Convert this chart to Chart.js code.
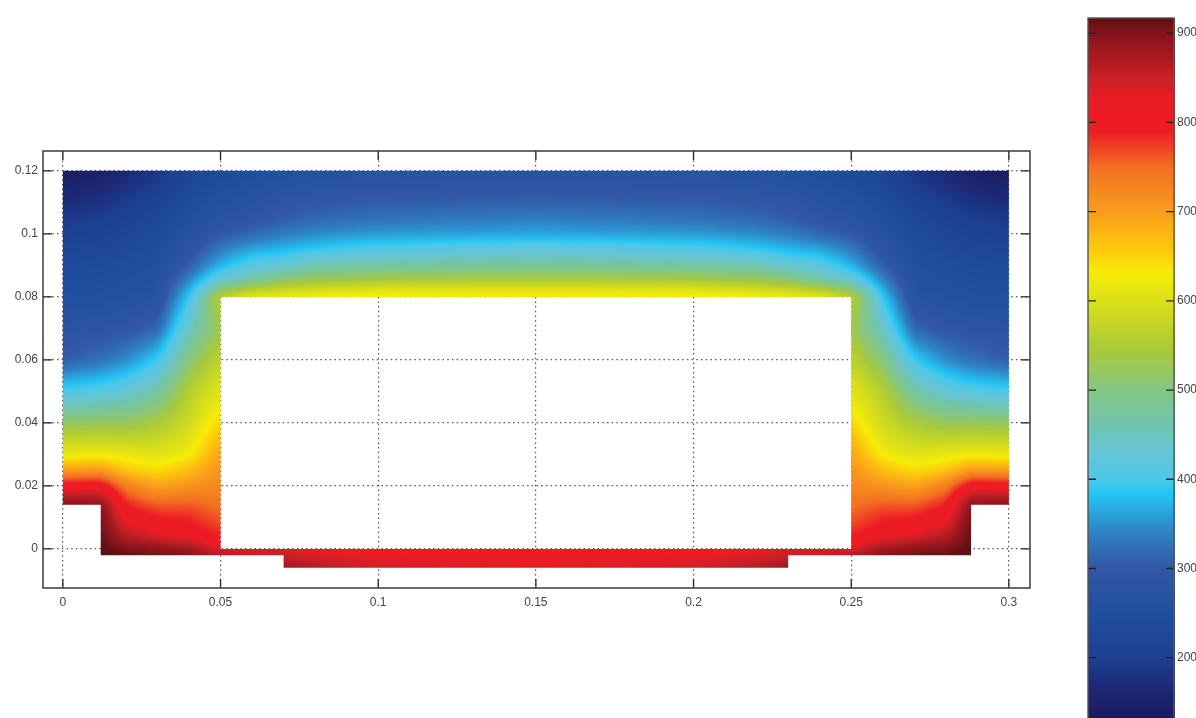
<!DOCTYPE html>
<html>
<head>
<meta charset="utf-8">
<title>Temperature field</title>
<script src="https://cdn.jsdelivr.net/npm/chart.js@4"></script>
<style>
  html, body { margin: 0; padding: 0; width: 1196px; height: 718px; overflow: hidden; background: #fff; }
  canvas { position: absolute; }
  #field { left: 0; top: 0; }
  #bar { left: 1076px; top: 0; }
</style>
</head>
<body>
<canvas id="field" width="1196" height="718"></canvas>
<canvas id="bar" width="140" height="760"></canvas>
<script>
// --- Axis ticks ---
const xTicks = [0, 0.05, 0.1, 0.15, 0.2, 0.25, 0.3];
const yTicks = [0, 0.02, 0.04, 0.06, 0.08, 0.1, 0.12];
const barTicks = [200, 300, 400, 500, 600, 700, 800, 900];

// --- Colour scale ---
const colorLevels = [110, 133, 170, 200, 250, 300, 336, 365, 383, 400, 430, 460, 500, 540, 570, 600, 630, 660, 700, 750, 790, 825, 850, 880, 900, 917];
const colorValues = ['#1a1a5c', '#1a1a5e', '#1c2a78', '#1d3f92', '#1f4fa0', '#3157a5', '#2f7dc0', '#2aa8e0', '#24c4f5', '#4cc8e8', '#65c5d8', '#70c5b0', '#84c784', '#a5c840', '#c0d428', '#dce018', '#f6ec07', '#fdc60c', '#f99d1c', '#f36f21', '#ed1c24', '#ed1c24', '#c82026', '#a0181e', '#84131a', '#5e0f12'];

// --- Nodes of the temperature grid ---
const xNodes = [0, 0.012, 0.02, 0.03, 0.04, 0.05, 0.06, 0.07, 0.08, 0.1, 0.15, 0.2, 0.22, 0.23, 0.24, 0.25, 0.26, 0.27, 0.28, 0.288, 0.3];
const yNodes = [-0.006, -0.002, 0, 0.005, 0.01, 0.014, 0.02, 0.025, 0.03, 0.035, 0.04, 0.05, 0.06, 0.07, 0.08, 0.085, 0.09, 0.095, 0.1, 0.105, 0.11, 0.12];

// --- Temperatures, one list per x node, bottom to top ---
const n = null;
const t000 = [n, n, n, n, n, 905, 810, 700, 615, 570, 520, 400, 305, 280, 250, 243, 235, 220, 205, 190, 172, 135];
const t012 = [n, 925, 920, 915, 910, 900, 815, 705, 622, 572, 525, 412, 325, 285, 255, 247, 238, 222, 212, 197, 180, 148];
const t020 = [n, 920, 900, 855, 815, 790, 735, 660, 615, 570, 525, 430, 345, 292, 262, 254, 245, 233, 222, 210, 195, 165];
const t030 = [n, 915, 895, 825, 790, 760, 695, 640, 605, 575, 545, 472, 392, 315, 270, 263, 255, 245, 236, 225, 212, 185];
const t040 = [n, 905, 880, 808, 785, 762, 710, 670, 625, 605, 585, 558, 505, 445, 390, 345, 305, 285, 265, 252, 240, 215];
const t050 = [n, 880, 835, 782, 760, 745, 725, 712, 695, 675, 650, 610, 572, 535, 575, 440, 372, 335, 300, 275, 260, 232];
const t060 = [n, 855, 840, n, n, n, n, n, n, n, n, n, n, n, 625, 480, 415, 365, 315, 290, 272, 245];
const t070 = [885, 850, 835, n, n, n, n, n, n, n, n, n, n, n, 630, 520, 430, 375, 335, 305, 290, 255];
const t080 = [870, 835, 825, n, n, n, n, n, n, n, n, n, n, n, 640, 535, 460, 390, 345, 315, 298, 262];
const t100 = [845, 825, 820, n, n, n, n, n, n, n, n, n, n, n, 648, 550, 470, 410, 355, 325, 305, 270];
const t150 = [835, 815, 810, n, n, n, n, n, n, n, n, n, n, n, 652, 555, 480, 425, 362, 335, 310, 275];
const t200 = [845, 825, 820, n, n, n, n, n, n, n, n, n, n, n, 648, 550, 470, 410, 355, 325, 305, 270];
const t220 = [870, 835, 825, n, n, n, n, n, n, n, n, n, n, n, 640, 535, 460, 390, 345, 315, 298, 262];
const t230 = [885, 850, 835, n, n, n, n, n, n, n, n, n, n, n, 630, 520, 430, 375, 335, 305, 290, 255];
const t240 = [n, 855, 840, n, n, n, n, n, n, n, n, n, n, n, 625, 480, 415, 365, 315, 290, 272, 245];
const t250 = [n, 880, 835, 782, 760, 745, 725, 712, 695, 675, 650, 610, 572, 535, 575, 440, 372, 335, 300, 275, 260, 232];
const t260 = [n, 905, 880, 808, 785, 762, 710, 670, 625, 605, 585, 558, 505, 445, 390, 345, 305, 285, 265, 252, 240, 215];
const t270 = [n, 915, 895, 825, 790, 760, 695, 640, 605, 575, 545, 472, 392, 315, 270, 263, 255, 245, 236, 225, 212, 185];
const t280 = [n, 920, 900, 855, 815, 790, 735, 660, 615, 570, 525, 430, 345, 292, 262, 254, 245, 233, 222, 210, 195, 165];
const t288 = [n, 925, 920, 915, 910, 900, 815, 705, 622, 572, 525, 412, 325, 285, 255, 247, 238, 222, 212, 197, 180, 148];
const t300 = [n, n, n, n, n, 905, 810, 700, 615, 570, 520, 400, 305, 280, 250, 243, 235, 220, 205, 190, 172, 135];
const tempColumns = [t000, t012, t020, t030, t040, t050, t060, t070, t080, t100, t150, t200, t220, t230, t240, t250, t260, t270, t280, t288, t300];

// --- Outline of the domain and of the hole in it ---
const domainX = [0, 0.012, 0.012, 0.07, 0.07, 0.23, 0.23, 0.288, 0.288, 0.3, 0.3, 0];
const domainY = [0.014, 0.014, -0.002, -0.002, -0.006, -0.006, -0.002, -0.002, 0.014, 0.014, 0.12, 0.12];
const holeX = [0.05, 0.25, 0.25, 0.05];
const holeY = [0, 0, 0.08, 0.08];

// Colour table with one entry per degree
function buildLut() {
    const probe = document.createElement('canvas').getContext('2d');
    const rgb = colorValues.map(c => {
        probe.fillStyle = c;
        const h = probe.fillStyle;
        return [parseInt(h.slice(1, 3), 16), parseInt(h.slice(3, 5), 16), parseInt(h.slice(5, 7), 16)];
    });
    const lut = [];
    for (let t = 0; t <= 1000; t++) {
        let i = 0;
        while (i < colorLevels.length - 2 && t > colorLevels[i + 1]) i++;
        const f = Math.min(1, Math.max(0, (t - colorLevels[i]) / (colorLevels[i + 1] - colorLevels[i])));
        lut.push([0, 1, 2].map(k => rgb[i][k] + (rgb[i + 1][k] - rgb[i][k]) * f));
    }
    return lut;
}
const lut = buildLut();

function findCell(nodes, v) {
    let i = 0;
    while (i < nodes.length - 2 && v > nodes[i + 1]) i++;
    return i;
}

// Box blur that skips empty pixels, only softens the shading between nodes
function softenPass(src, w, h, r, stepX) {
    const out = new Float32Array(src.length);
    const lines = stepX ? h : w, len = stepX ? w : h;
    for (let l = 0; l < lines; l++) {
        for (let p = 0; p < len; p++) {
            let sum = 0, cnt = 0;
            for (let q = Math.max(0, p - r); q <= Math.min(len - 1, p + r); q++) {
                const v = stepX ? src[l * w + q] : src[q * w + l];
                if (!isNaN(v)) { sum += v; cnt++; }
            }
            out[stepX ? l * w + p : p * w + l] = cnt ? sum / cnt : NaN;
        }
    }
    return out;
}

// Same job as "shading interp": paints the grid cells between their node values
const shadedField = {
    id: 'shadedField',
    beforeDatasetsDraw(chart) {
        const ds = chart.data.datasets[0];
        const sx = chart.scales.x, sy = chart.scales.y, ctx = chart.ctx;
        const left = Math.floor(sx.getPixelForValue(ds.xNodes[0]));
        const right = Math.ceil(sx.getPixelForValue(ds.xNodes[ds.xNodes.length - 1]));
        const top = Math.max(0, Math.floor(sy.getPixelForValue(ds.yNodes[ds.yNodes.length - 1])));
        const bottom = Math.ceil(sy.getPixelForValue(ds.yNodes[0]));
        const w = right - left + 1, h = bottom - top + 1;
        let field = new Float32Array(w * h).fill(NaN);
        for (let py = 0; py < h; py++) {
            const yv = sy.getValueForPixel(top + py + 0.5);
            const j = findCell(ds.yNodes, yv);
            const fy = Math.min(1, Math.max(0, (yv - ds.yNodes[j]) / (ds.yNodes[j + 1] - ds.yNodes[j])));
            for (let px = 0; px < w; px++) {
                const xv = sx.getValueForPixel(left + px + 0.5);
                const i = findCell(ds.xNodes, xv);
                const fx = Math.min(1, Math.max(0, (xv - ds.xNodes[i]) / (ds.xNodes[i + 1] - ds.xNodes[i])));
                const a = ds.columns[i][j], b = ds.columns[i + 1][j], c = ds.columns[i][j + 1], d = ds.columns[i + 1][j + 1];
                if (a === null || b === null || c === null || d === null) continue;
                field[py * w + px] = (a * (1 - fx) + b * fx) * (1 - fy) + (c * (1 - fx) + d * fx) * fy;
            }
        }
        for (let pass = 0; pass < (ds.soften ? 2 : 0); pass++) {
            field = softenPass(field, w, h, ds.soften, true);
            field = softenPass(field, w, h, ds.soften, false);
        }
        const off = document.createElement('canvas');
        off.width = w; off.height = h;
        const offCtx = off.getContext('2d');
        const img = offCtx.createImageData(w, h);
        for (let o = 0; o < w * h; o++) {
            if (isNaN(field[o])) continue;
            const col = lut[Math.round(field[o])];
            img.data[o * 4] = col[0]; img.data[o * 4 + 1] = col[1]; img.data[o * 4 + 2] = col[2]; img.data[o * 4 + 3] = 255;
        }
        offCtx.putImageData(img, 0, 0);
        ctx.save();
        if (ds.outlines) {
            ctx.beginPath();
            ds.outlines.forEach(([xs, ys]) => {
                xs.forEach((x, k) => {
                    const X = sx.getPixelForValue(x), Y = sy.getPixelForValue(ys[k]);
                    if (k === 0) ctx.moveTo(X, Y); else ctx.lineTo(X, Y);
                });
                ctx.closePath();
            });
            ctx.clip('evenodd');
        }
        ctx.drawImage(off, left, top);
        ctx.restore();
    }
};

// MATLAB style box with the ticks pointing inwards on all four sides
const boxedAxes = {
    id: 'boxedAxes',
    afterDraw(chart) {
        const ctx = chart.ctx, area = chart.chartArea;
        const o = chart.options.plugins.boxedAxes;
        ctx.save();
        ctx.strokeStyle = o.tickColor;
        ctx.lineWidth = 1.3;
        ctx.beginPath();
        chart.scales.x.ticks.forEach(t => {
            const X = chart.scales.x.getPixelForValue(t.value);
            ctx.moveTo(X, area.top); ctx.lineTo(X, area.top + o.tickLength);
            ctx.moveTo(X, area.bottom); ctx.lineTo(X, area.bottom - o.tickLength);
        });
        chart.scales.y.ticks.forEach(t => {
            const Y = chart.scales.y.getPixelForValue(t.value);
            ctx.moveTo(area.left, Y); ctx.lineTo(area.left + o.tickLength, Y);
            ctx.moveTo(area.right, Y); ctx.lineTo(area.right - o.tickLength, Y);
        });
        ctx.stroke();
        ctx.strokeStyle = o.boxColor;
        ctx.lineWidth = o.boxWidth;
        ctx.strokeRect(area.left, area.top, area.right - area.left, area.bottom - area.top);
        ctx.restore();
    }
};

function useTicks(list) {
    return scale => { scale.ticks = list.map(v => ({ value: v })); };
}
const tickFont = { family: '"Liberation Sans", Arial, sans-serif', size: 12 };
const gridStyle = { color: '#555', lineWidth: 1.2, drawTicks: false };

new Chart(document.getElementById('field'), {
    type: 'scatter',
    data: {
        datasets: [{
            label: 'Temperature',
            data: [],
            pointRadius: 0,
            xNodes: xNodes,
            yNodes: yNodes,
            columns: tempColumns,
            soften: 4,
            outlines: [[domainX, domainY], [holeX, holeY]]
        }]
    },
    options: {
        responsive: false,
        animation: false,
        events: [],
        layout: { padding: { left: 0, right: 166, top: 151, bottom: 0 } },
        scales: {
            x: {
                type: 'linear', min: -0.0063, max: 0.3067,
                afterBuildTicks: useTicks(xTicks),
                afterFit: scale => { scale.height = 130; },
                grid: gridStyle,
                border: { display: false, dash: [1.5, 3.2] },
                ticks: { color: '#444', font: tickFont, padding: 7, maxRotation: 0, autoSkip: false, callback: v => String(v) }
            },
            y: {
                type: 'linear', min: -0.0124, max: 0.1263,
                afterBuildTicks: useTicks(yTicks),
                afterFit: scale => { scale.width = 43; },
                grid: gridStyle,
                border: { display: false, dash: [1.5, 3.2] },
                ticks: { color: '#444', font: tickFont, padding: 5, autoSkip: false, callback: v => String(v) }
            }
        },
        plugins: {
            legend: { display: false },
            tooltip: { enabled: false },
            boxedAxes: { tickColor: '#222', tickLength: 9, boxColor: '#3a3a3a', boxWidth: 1.5 }
        }
    },
    plugins: [shadedField, boxedAxes]
});

new Chart(document.getElementById('bar'), {
    type: 'scatter',
    data: {
        datasets: [{
            label: 'Colour bar',
            data: [],
            pointRadius: 0,
            xNodes: [0, 1],
            yNodes: colorLevels,
            columns: [colorLevels, colorLevels]
        }]
    },
    options: {
        responsive: false,
        animation: false,
        events: [],
        layout: { padding: { left: 12, right: 0, top: 18, bottom: 0 } },
        scales: {
            x: {
                type: 'linear', min: 0, max: 1,
                afterBuildTicks: useTicks([]),
                afterFit: scale => { scale.height = 22; },
                grid: { display: false, drawTicks: false }, border: { display: false },
                ticks: { display: false }
            },
            y: {
                type: 'linear', position: 'right', min: 110, max: 917,
                afterBuildTicks: useTicks(barTicks),
                afterFit: scale => { scale.width = 42; },
                grid: { display: false, drawTicks: false }, border: { display: false },
                ticks: { color: '#444', font: tickFont, padding: 3, autoSkip: false, callback: v => String(v) }
            }
        },
        plugins: {
            legend: { display: false },
            tooltip: { enabled: false },
            boxedAxes: { tickColor: '#222', tickLength: 8, boxColor: '#555', boxWidth: 1.4 }
        }
    },
    plugins: [shadedField, boxedAxes]
});
</script>
</body>
</html>
